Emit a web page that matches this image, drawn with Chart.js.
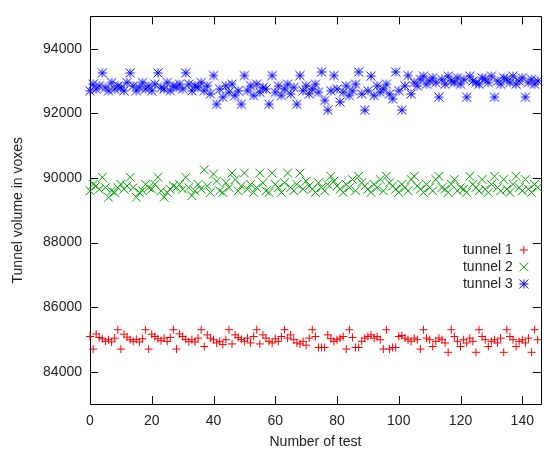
<!DOCTYPE html>
<html><head><meta charset="utf-8">
<script src="https://cdn.jsdelivr.net/npm/chart.js@4"></script>
<style>html,body{margin:0;padding:0;background:#fff;overflow:hidden}</style>
</head><body>
<canvas id="c" width="548" height="452"></canvas>
<script>
const seriesNames = ['tunnel 1', 'tunnel 2', 'tunnel 3'];
const xTicks = [0, 20, 40, 60, 80, 100, 120, 140];
const yTicks = [84000, 86000, 88000, 90000, 92000, 94000];

const tunnel1 = [
 85090, 84700, 85170, 85060, 85020, 84940, 84990, 84920, 85040, 85300,
 84700, 85160, 85070, 84990, 84940, 85000, 84920, 85020, 85300, 84700,
 85160, 85090, 85020, 84960, 85040, 84940, 85060, 85300, 84700, 85170,
 85090, 85000, 84930, 84990, 84920, 85040, 85300, 84780, 85140, 85040,
 84990, 84890, 84940, 84840, 84990, 85300, 84860, 85140, 85060, 85000,
 84940, 85040, 84890, 85090, 85300, 84860, 85140, 85040, 84940, 84890,
 85020, 84940, 85090, 85300, 85040, 85140, 84990, 84890, 84860, 84940,
 84820, 85040, 85300, 85090, 84750, 84750, 84750, 85140, 85020, 84940,
 84990, 85040, 85090, 84700, 85300, 85060, 84750, 84750, 84940, 85040,
 85090, 85140, 85040, 85090, 84990, 84700, 85300, 84700, 84750, 84750,
 85090, 85120, 85040, 84990, 84940, 85040, 84990, 84700, 85300, 85040,
 84990, 84780, 84940, 85040, 84990, 84890, 84600, 85300, 85090, 84940,
 84780, 84990, 84890, 85040, 84940, 84600, 85300, 85090, 84990, 84780,
 84940, 84990, 84890, 85040, 84600, 85300, 85090, 84990, 84780, 84940,
 84990, 84890, 85040, 84600, 85300, 84990];

const tunnel2 = [
 89600, 89800, 89750, 89650, 90020, 89700, 89400, 89600, 89550, 89700,
 89800, 89650, 89750, 90020, 89700, 89400, 89550, 89600, 89800, 89700,
 89650, 89800, 90020, 89600, 89400, 89550, 89650, 89750, 89700, 89800,
 89650, 90020, 89700, 89450, 89600, 89800, 89650, 90250, 89750, 89550,
 90120, 89900, 89600, 89550, 89850, 89700, 90150, 89950, 89600, 89750,
 90150, 89650, 89800, 89550, 89700, 90150, 89850, 89600, 89550, 90150,
 89800, 89700, 89550, 89850, 90150, 89700, 89600, 89800, 90150, 89650,
 89900, 89750, 89650, 89550, 89850, 89700, 89600, 89800, 90050, 89900,
 89750, 89650, 89550, 89800, 89700, 89950, 89600, 90050, 89850, 89750,
 89650, 89550, 89800, 89700, 89950, 89600, 90050, 89850, 89750, 89650,
 89550, 89800, 89700, 89600, 89950, 90050, 89750, 89650, 89550, 89800,
 89700, 89600, 89950, 90050, 89700, 89650, 89550, 89800, 89950, 89600,
 89700, 89650, 89550, 90050, 89800, 89700, 89600, 89950, 89650, 89550,
 89800, 90050, 89700, 89600, 89950, 89650, 89550, 89800, 90050, 89700,
 89600, 89950, 89650, 89550, 89800, 89700];

const tunnel3 = [
 92700, 92900, 92750, 92850, 93250, 92800, 92700, 92950, 92750, 92850,
 92800, 92700, 92950, 93250, 92850, 92700, 92800, 92950, 92750, 92850,
 92700, 92900, 93250, 92800, 92750, 92950, 92700, 92850, 92800, 92900,
 92750, 93250, 92900, 92700, 92850, 92800, 92950, 92700, 92850, 92600,
 93170, 92280, 92750, 92500, 92850, 92650, 92900, 92550, 92700, 92280,
 93170, 92700, 92850, 92550, 92900, 92650, 92800, 92750, 92280, 93170,
 92650, 92850, 92550, 92750, 92900, 92600, 92800, 92280, 93170, 92700,
 92850, 92600, 92750, 92900, 92650, 93280, 92400, 92100, 92700, 93170,
 92750, 92350, 92650, 92850, 92550, 92700, 92900, 93280, 92600, 92100,
 92700, 93150, 92550, 92850, 92650, 92750, 92900, 92600, 92450, 93280,
 92700, 92100, 92850, 93170, 92600, 92950, 92850, 93050, 93150, 92900,
 93000, 93100, 92950, 92500, 93050, 92900, 93150, 93000, 92950, 93100,
 92900, 93050, 92500, 93150, 93000, 92950, 92900, 93100, 93050, 92950,
 93150, 92500, 93000, 92900, 93100, 93050, 92950, 93150, 92900, 93000,
 93100, 92500, 92950, 93050, 92900, 93000];

const FONT = '"Liberation Sans", Arial, sans-serif';
const TXT = '#222';
const toPts = arr => arr.map((v, i) => ({x: i, y: v}));

function asterisk(color, s) {
  const n = Math.ceil(s) * 2 + 2;
  const c = document.createElement('canvas');
  c.width = n; c.height = n;
  const g = c.getContext('2d');
  const m = n / 2;
  g.strokeStyle = color; g.lineWidth = 1;
  g.beginPath();
  g.moveTo(m - s, m); g.lineTo(m + s, m);
  g.moveTo(m, m - s); g.lineTo(m, m + s);
  g.moveTo(m - s, m - s); g.lineTo(m + s, m + s);
  g.moveTo(m + s, m - s); g.lineTo(m - s, m + s);
  g.stroke();
  return c;
}

const frame = {
  id: 'frame',
  beforeDatasetsDraw(chart) {
    const {ctx, chartArea: a, scales: {x, y}} = chart;
    ctx.save();
    ctx.strokeStyle = '#000';
    ctx.lineWidth = 1;
    ctx.beginPath();
    ctx.rect(Math.round(a.left) + 0.5, Math.round(a.top) + 0.5, Math.round(a.right - a.left), Math.round(a.bottom - a.top));
    const L = 8;
    xTicks.forEach(v => {
      const px = Math.round(x.getPixelForValue(v)) + 0.5;
      ctx.moveTo(px, a.bottom); ctx.lineTo(px, a.bottom - L);
      ctx.moveTo(px, a.top); ctx.lineTo(px, a.top + L);
    });
    yTicks.forEach(v => {
      const py = Math.round(y.getPixelForValue(v)) + 0.5;
      ctx.moveTo(a.left, py); ctx.lineTo(a.left + L, py);
      ctx.moveTo(a.right, py); ctx.lineTo(a.right - L, py);
    });
    ctx.stroke();
    ctx.restore();
  },
  afterDraw(chart) {
    const {ctx, chartArea: a} = chart;
    ctx.save();
    ctx.font = '14px ' + FONT;
    ctx.textAlign = 'right';
    ctx.textBaseline = 'middle';
    chart.data.datasets.forEach((ds, k) => {
      const yy = a.bottom - 154 + k * 17;
      ctx.fillStyle = TXT;
      ctx.fillText(ds.label, a.right - 28, yy);
      ctx.strokeStyle = ds.borderColor;
      ctx.fillStyle = ds.borderColor;
      ctx.lineWidth = 1;
      Chart.helpers.drawPoint(ctx, {pointStyle: ds.pointStyle, radius: ds.pointRadius, borderWidth: 1, rotation: 0}, a.right - 17, yy);
    });
    ctx.restore();
  }
};

const mk = (label, arr, color, style, r) => ({
  label, data: toPts(arr), borderColor: color, backgroundColor: color,
  pointStyle: style, pointRadius: r, pointBorderWidth: 1, pointHoverRadius: r,
  showLine: false, clip: false
});

new Chart(document.getElementById('c'), {
  type: 'scatter',
  data: {
    datasets: [
      mk(seriesNames[0], tunnel1, '#ff0000', 'cross', 4),
      mk(seriesNames[1], tunnel2, '#00a000', 'crossRot', 6.2),
      mk(seriesNames[2], tunnel3, '#0000ff', asterisk('#0000ff', 4.5), 5)
    ]
  },
  options: {
    responsive: false,
    animation: false,
    devicePixelRatio: 1,
    layout: {padding: {top: 14, right: 3, left: 0, bottom: 0}},
    plugins: {legend: {display: false}, tooltip: {enabled: false}},
    events: [],
    scales: {
      x: {
        type: 'linear', min: 0, max: 146,
        grid: {display: false, drawTicks: false},
        border: {display: false},
        afterBuildTicks: s => { s.ticks = xTicks.map(v => ({value: v})); },
        ticks: {padding: 9, color: TXT, font: {family: FONT, size: 14}, callback: v => String(v)},
        title: {display: true, text: 'Number of test', color: TXT, font: {family: FONT, size: 14}, padding: {top: 0, bottom: 1}},
        afterFit: s => { s.height = 48; }
      },
      y: {
        type: 'linear', min: 83000, max: 95000,
        grid: {display: false, drawTicks: false},
        border: {display: false},
        afterBuildTicks: s => { s.ticks = yTicks.map(v => ({value: v})); },
        ticks: {padding: 8, color: TXT, font: {family: FONT, size: 14}, callback: v => String(v)},
        title: {display: true, text: 'Tunnel volume in voxes', color: TXT, font: {family: FONT, size: 14}, padding: {top: 10, bottom: 0}},
        afterFit: s => { s.width = 90; }
      }
    }
  },
  plugins: [frame]
});
</script>
</body></html>
